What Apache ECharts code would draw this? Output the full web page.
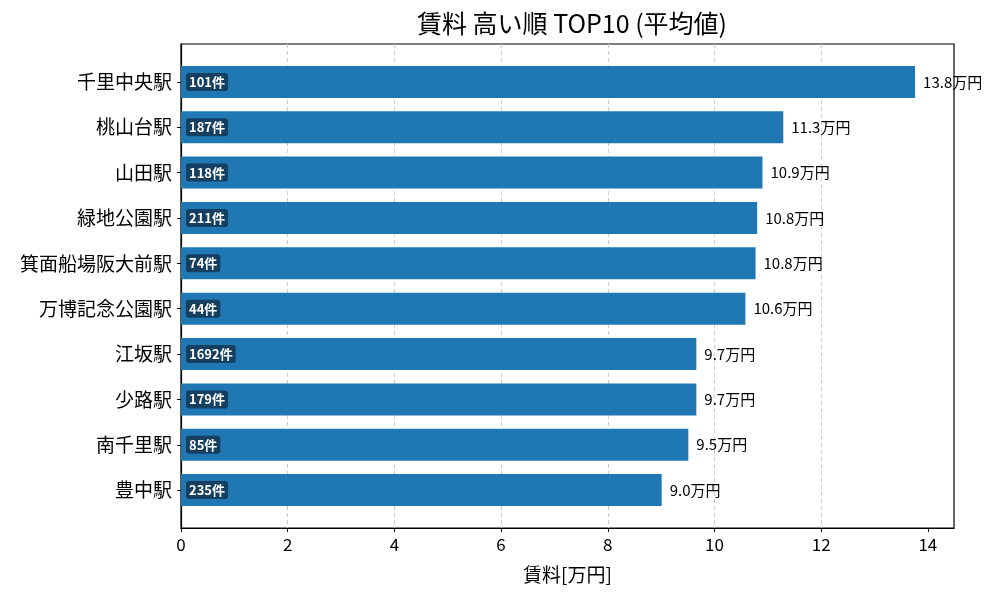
<!DOCTYPE html>
<html><head><meta charset="utf-8">
<script src="https://cdn.jsdelivr.net/npm/echarts@6/dist/echarts.min.js"></script>
<style>html,body{margin:0;padding:0;background:#fff}#c{width:1000px;height:600px}</style>
</head><body><div id="c"></div>
<script>
const stations = ['千里中央駅','桃山台駅','山田駅','緑地公園駅','箕面船場阪大前駅','万博記念公園駅','江坂駅','少路駅','南千里駅','豊中駅'];
const rents = [13.76, 11.29, 10.90, 10.80, 10.77, 10.58, 9.66, 9.66, 9.51, 9.01];
const counts = [101, 187, 118, 211, 74, 44, 1692, 179, 85, 235];
const xTicks = [0, 2, 4, 6, 8, 10, 12, 14];

const F = '"Noto Sans CJK JP","Noto Sans",sans-serif';
const xMax = 14.49;
const chart = echarts.init(document.getElementById('c'));
chart.setOption({
  animation: false,
  title: {text: '賃料 高い順 TOP10 (平均値)', left: 567, top: 6, textAlign: 'center',
    textStyle: {fontFamily: F, fontSize: 25, fontWeight: 'normal', color: '#000'}},
  grid: [
    {left: 181, top: 44, width: 773, height: 484, show: true, borderColor: '#000', borderWidth: 1.2},
    {left: 181, top: 59.2, width: 773, height: 453.6}
  ],
  xAxis: [
    {gridIndex: 0, type: 'value', min: 0, max: xMax, interval: 2,
     axisLine: {show: true, lineStyle: {color: '#000', width: 1.2}},
     axisTick: {show: true, length: 4, lineStyle: {color: '#000'}, customValues: xTicks},
     axisLabel: {fontFamily: F, fontSize: 17, color: '#000', margin: 8, customValues: xTicks,
       formatter: v => String(v)},
     splitLine: {show: true, showMaxLine: false, showMinLine: false,
       lineStyle: {color: '#cccccc', type: [4, 3], width: 1}},
     name: '賃料[万円]', nameLocation: 'middle', nameGap: 37,
     nameTextStyle: {fontFamily: F, fontSize: 19, color: '#000'}},
    {gridIndex: 1, type: 'value', min: 0, max: xMax, show: false, splitLine: {show: false}}
  ],
  yAxis: [
    {gridIndex: 0, type: 'value', min: 0, max: 1, axisLine: {show: true, lineStyle: {color: '#000', width: 1.2}},
     axisTick: {show: false}, axisLabel: {show: false}, splitLine: {show: false}},
    {gridIndex: 1, type: 'category', data: stations, inverse: true,
     axisLine: {show: false}, axisTick: {show: true, alignWithLabel: true, length: 4, lineStyle: {color: '#000'}},
     axisLabel: {fontFamily: F, fontSize: 19, color: '#000', margin: 9},
     splitLine: {show: false}}
  ],
  series: [
    {type: 'bar', xAxisIndex: 1, yAxisIndex: 1, data: rents, barWidth: 32,
     itemStyle: {color: '#1f77b4'},
     label: {show: true, position: 'right', distance: 8, fontFamily: F, fontSize: 15, color: '#000',
       formatter: p => p.value.toFixed(1) + '万円'}},
    {type: 'bar', xAxisIndex: 1, yAxisIndex: 1, data: rents, barWidth: 32, barGap: '-100%',
     itemStyle: {color: 'rgba(0,0,0,0)'}, silent: true,
     label: {show: true, position: 'insideLeft', distance: 5, fontFamily: F, fontSize: 13, fontWeight: 'bold',
       color: '#fff', backgroundColor: '#143f60', borderRadius: 3, padding: [3, 3, 2, 3],
       formatter: p => counts[p.dataIndex] + '件'}}
  ]
});
</script></body></html>
